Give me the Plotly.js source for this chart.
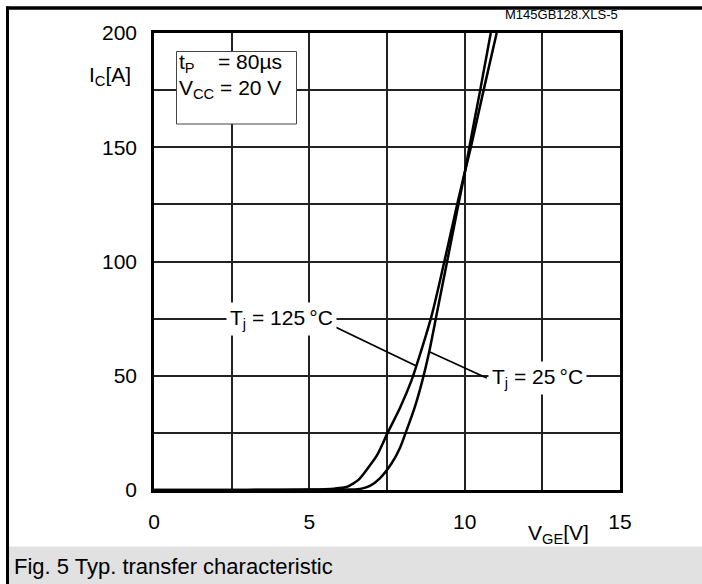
<!DOCTYPE html>
<html>
<head>
<meta charset="utf-8">
<script src="https://cdn.plot.ly/plotly-3.0.1.min.js"></script>
<style>html,body{margin:0;padding:0;background:#fff;}#chart{width:702px;height:584px;}</style>
</head>
<body>
<div id="chart"></div>
<script>
// Data (VGE in V, IC in A)
const vge125 = [0, 3, 5, 5.8, 6.2, 6.41, 6.58, 6.84, 7.17, 7.52, 7.92, 8.29, 8.45, 8.93, 9.33, 9.76, 10.02, 10.2, 10.61, 11.03];
const ic125  = [0, 0.05, 0.2, 0.6, 1.3, 2.8, 4.4, 8.8, 15, 25, 36, 48, 54.5, 76, 99, 125, 140, 150, 175, 200];
const vge25  = [0, 4, 5.5, 6.3, 6.68, 6.95, 7.27, 7.65, 7.92, 8.1, 8.4, 8.64, 8.85, 9.1, 9.45, 9.8, 10.02, 10.15, 10.5, 10.84];
const ic25   = [0, 0.05, 0.1, 0.2, 0.6, 1.8, 5.1, 11.7, 18.5, 25, 36.5, 48, 60, 77, 101, 125, 140, 150, 175, 200];
const xTickVals = [0, 2.5, 5, 7.5, 10, 12.5, 15];
const xTickText = ["0", "", "5", "", "10", "", "15"];
const yTickVals = [0, 25, 50, 75, 100, 125, 150, 175, 200];
const yTickText = ["0", "", "50", "", "100", "", "150", "", "200"];
const label125 = "T<sub>j</sub> = 125\u2009°C";
const label25 = "T<sub>j</sub> = 25\u2009°C";

// pixel -> paper helpers (plot area 154..620 x 33..490)
const L = 154, R = 620, T = 33, B = 490;
const px = p => (p - L) / (R - L);
const py = p => (B - p) / (B - T);
const FONT = "Liberation Sans, Arial, Helvetica, sans-serif";
const FS = 21;

const traces = [
  {x: vge125, y: ic125, mode: "lines", line: {color: "#000", width: 2.5, shape: "spline", smoothing: 0.8}, hoverinfo: "skip"},
  {x: vge25, y: ic25, mode: "lines", line: {color: "#000", width: 2.5, shape: "spline", smoothing: 0.8}, hoverinfo: "skip"}
];

const layout = {
  width: 702, height: 584,
  margin: {l: L, r: 702 - R, t: T, b: 584 - B, pad: 0},
  paper_bgcolor: "#fff", plot_bgcolor: "#fff",
  showlegend: false,
  font: {family: FONT, size: FS, color: "#000"},
  xaxis: {
    range: [0, 15], tickvals: xTickVals, ticktext: xTickText,
    showgrid: true, gridcolor: "#222", gridwidth: 1.5,
    showline: true, linecolor: "#000", linewidth: 2.5, mirror: true,
    zeroline: false, ticks: "outside", ticklen: 11, tickcolor: "rgba(0,0,0,0)",
    tickfont: {family: FONT, size: FS, color: "#000"}, fixedrange: true
  },
  yaxis: {
    range: [0, 200], tickvals: yTickVals, ticktext: yTickText,
    showgrid: true, gridcolor: "#222", gridwidth: 1.5,
    showline: true, linecolor: "#000", linewidth: 2.5, mirror: true,
    zeroline: false, ticks: "outside", ticklen: 10, tickcolor: "rgba(0,0,0,0)",
    tickfont: {family: FONT, size: FS, color: "#000"}, fixedrange: true
  },
  shapes: [
    // caption band
    {type: "rect", xref: "paper", yref: "paper", x0: px(9), x1: px(710), y0: py(600), y1: py(546.5),
     fillcolor: "#e1e1e1", line: {width: 0}, layer: "below"},
    // outer frame top & left
    {type: "line", xref: "paper", yref: "paper", x0: px(6), x1: px(710), y0: py(8), y1: py(8),
     line: {color: "#000", width: 3.5}},
    {type: "line", xref: "paper", yref: "paper", x0: px(7.5), x1: px(7.5), y0: py(6.5), y1: py(600),
     line: {color: "#000", width: 3}},
    // condition box
    {type: "rect", xref: "paper", yref: "paper", x0: px(176.5), x1: px(296.5), y0: py(124), y1: py(51.5),
     fillcolor: "#fff", line: {color: "#444", width: 1}, layer: "above"},
    // leader lines
    {type: "line", xref: "x", yref: "y", x0: 5.5, y0: 73.5, x1: 8.43, y1: 54.4, line: {color: "#000", width: 1.8}},
    {type: "line", xref: "x", yref: "y", x0: 8.86, y0: 60.5, x1: 10.71, y1: 49, line: {color: "#000", width: 1.8}}
  ],
  annotations: [
    {xref: "paper", yref: "paper", x: px(177), y: py(63), xanchor: "left", yanchor: "middle", showarrow: false,
     text: "t<sub>P</sub>    = 80µs", font: {size: FS}},
    {xref: "paper", yref: "paper", x: px(177), y: py(89), xanchor: "left", yanchor: "middle", showarrow: false,
     text: "V<sub>CC</sub> = 20 V", font: {size: FS}},
    {xref: "paper", yref: "paper", x: px(110), y: py(76), xanchor: "center", yanchor: "middle", showarrow: false,
     text: "I<sub>C</sub>[A]", font: {size: FS}},
    {xref: "paper", yref: "paper", x: px(558), y: py(534), xanchor: "center", yanchor: "middle", showarrow: false,
     text: "V<sub>GE</sub>[V]", font: {size: FS}},
    {xref: "paper", yref: "paper", x: px(561), y: py(15), xanchor: "center", yanchor: "middle", showarrow: false,
     text: "M145GB128.XLS-5", font: {size: 13}},
    {xref: "paper", yref: "paper", x: px(12), y: py(566), xanchor: "left", yanchor: "middle", showarrow: false,
     text: "Fig. 5 Typ. transfer characteristic", font: {size: 22}},
    {xref: "x", yref: "y", x: 4.12, y: 75, xanchor: "center", yanchor: "middle", showarrow: false,
     text: label125, font: {size: FS}, bgcolor: "#fff", borderpad: 3},
    {xref: "x", yref: "y", x: 12.33, y: 49, xanchor: "center", yanchor: "middle", showarrow: false,
     text: label25, font: {size: FS}, bgcolor: "#fff", borderpad: 3}
  ]
};

Plotly.newPlot("chart", traces, layout, {displayModeBar: false});
</script>
</body>
</html>
